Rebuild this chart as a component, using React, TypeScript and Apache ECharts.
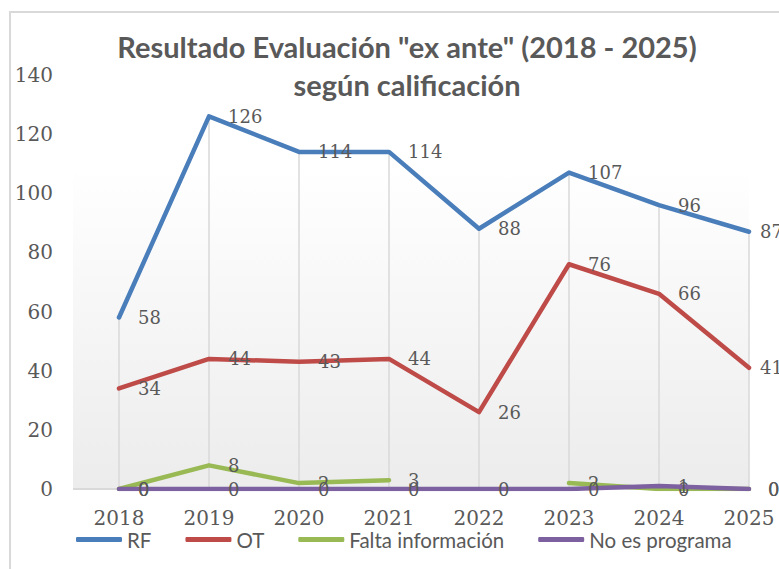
import React, { useEffect, useRef } from "react";
import * as echarts from "echarts";

const categories = ["2018", "2019", "2020", "2021", "2022", "2023", "2024", "2025"];
const rf = [58, 126, 114, 114, 88, 107, 96, 87];
const ot = [34, 44, 43, 44, 26, 76, 66, 41];
const faltaInfo: (number | null)[] = [0, 8, 2, 3, null, 2, 0, 0];
const noPrograma = [0, 0, 0, 0, 0, 0, 1, 0];
const yTicks = { min: 0, max: 140, interval: 20 };

const titleText = 'Resultado Evaluación "ex ante" (2018 - 2025)\nsegún calificación';

export default function App() {
  const ref = useRef<HTMLDivElement>(null);
  useEffect(() => {
    if (!ref.current) return;
    const chart = echarts.init(ref.current, undefined, { renderer: "svg" });
    const dropVals = categories.map((_, i) =>
      Math.max(rf[i], ot[i], faltaInfo[i] ?? 0, noPrograma[i])
    );
    const serif = "DejaVu Serif";
    const sans = "Lato";
    const labelCfg = {
      show: true,
      position: "right" as const,
      distance: 19,
      color: "#595959",
      fontFamily: serif,
      fontSize: 18,
    };
    const last = categories.length - 1;
    const withEdgeLabel = (data: (number | null)[]) =>
      data.map((v, i) => (i === last ? { value: v, label: { distance: 11 } } : v));
    const lineSeries = (name: string, data: any[], color: string, z: number) => ({
      name,
      type: "line",
      data,
      symbol: "circle",
      symbolSize: 0.1,
      showSymbol: true,
      connectNulls: false,
      z,
      lineStyle: { color, width: 4.5, cap: "round", join: "round" },
      itemStyle: { color },
      label: labelCfg,
    });
    chart.setOption({
      animation: false,
      backgroundColor: "#ffffff",
      title: {
        text: titleText,
        left: 402,
        top: 22,
        textAlign: "center",
        textStyle: {
          fontFamily: sans,
          fontWeight: "bold",
          fontSize: 29,
          color: "#595959",
          lineHeight: 38,
        },
      },
      graphic: [
        {
          type: "rect",
          z: -10,
          silent: true,
          shape: { x: 10, y: 12, width: 800, height: 600 },
          style: { fill: "none", stroke: "#d9d9d9", lineWidth: 2 },
        },
        {
          type: "rect",
          z: -5,
          silent: true,
          shape: { x: 73, y: 167, width: 676, height: 322 },
          style: {
            fill: new echarts.graphic.LinearGradient(0, 0, 0, 1, [
              { offset: 0, color: "#ffffff" },
              { offset: 1, color: "#ececec" },
            ]),
          },
        },
        {
          type: "line",
          z: -4,
          silent: true,
          shape: { x1: 73, y1: 489, x2: 749, y2: 489 },
          style: { stroke: "#d9d9d9", lineWidth: 2 },
        },
      ],
      legend: {
        data: ["RF", "OT", "Falta información", "No es programa"],
        left: 71,
        top: 524,
        icon: "roundRect",
        itemWidth: 46,
        itemHeight: 5,
        itemGap: 34,
        textStyle: { fontFamily: sans, fontSize: 20.5, color: "#595959" },
      },
      grid: { left: 119, top: 75, width: 630, height: 414, containLabel: false },
      xAxis: {
        type: "category",
        data: categories,
        boundaryGap: false,
        axisLine: { show: false },
        axisTick: { show: false },
        axisLabel: {
          fontFamily: serif,
          fontSize: 20,
          color: "#595959",
          margin: 19,
        },
        splitLine: { show: false },
      },
      yAxis: {
        type: "value",
        min: yTicks.min,
        max: yTicks.max,
        interval: yTicks.interval,
        axisLine: { show: false },
        axisTick: { show: false },
        splitLine: { show: false },
        axisLabel: {
          fontFamily: serif,
          fontSize: 20,
          color: "#595959",
          margin: 66,
        },
      },
      series: [
        {
          name: "drop",
          type: "bar",
          data: dropVals,
          barWidth: 1.5,
          silent: true,
          z: 1,
          itemStyle: { color: "#d9d9d9" },
          label: { show: false },
        },
        lineSeries("RF", withEdgeLabel(rf), "#4a7ebb", 5),
        lineSeries("OT", withEdgeLabel(ot), "#be4b48", 5),
        lineSeries("Falta información", faltaInfo, "#98b954", 5),
        lineSeries("No es programa", noPrograma, "#7d60a0", 6),
      ],
    });
    return () => chart.dispose();
  }, []);
  return (
    <div
      ref={ref}
      style={{ position: "absolute", left: 0, top: 0, width: 779, height: 569 }}
    />
  );
}
